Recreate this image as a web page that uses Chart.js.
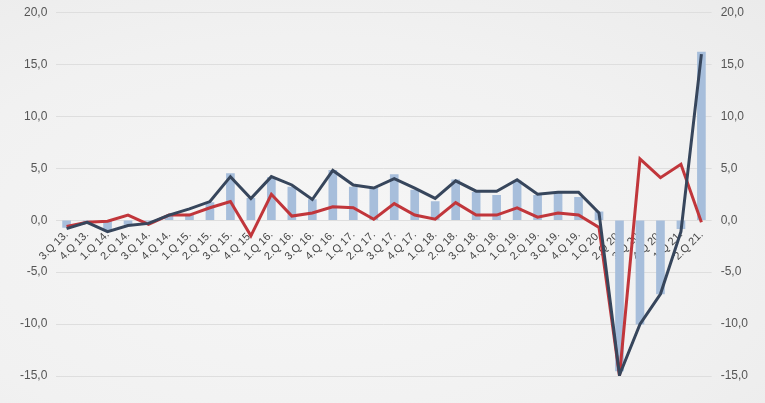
<!DOCTYPE html>
<html>
<head>
<meta charset="utf-8">
<script src="https://cdn.jsdelivr.net/npm/chart.js@4/dist/chart.umd.min.js"></script>
<style>
  html, body { margin: 0; padding: 0; }
  body {
    width: 765px; height: 403px; overflow: hidden;
    background: radial-gradient(ellipse at 40% 60%, #f6f6f6 0%, #f1f1f1 60%, #ebebeb 100%);
  }
  #wrap { position: relative; width: 765px; height: 403px; }
</style>
</head>
<body>
<div id="wrap"><canvas id="chart" width="765" height="403"></canvas></div>
<script>
// quarters, 3.Q 2013 - 2.Q 2021
const quarters = [
  "3.Q 13.", "4.Q 13.",
  "1.Q 14.", "2.Q 14.", "3.Q 14.", "4.Q 14.",
  "1.Q 15.", "2.Q 15.", "3.Q 15.", "4.Q 15.",
  "1.Q 16.", "2.Q 16.", "3.Q 16.", "4.Q 16.",
  "1.Q 17.", "2.Q 17.", "3.Q 17.", "4.Q 17.",
  "1.Q 18.", "2.Q 18.", "3.Q 18.", "4.Q 18.",
  "1.Q 19.", "2.Q 19.", "3.Q 19.", "4.Q 19.",
  "1.Q 20.", "2.Q 20.", "3.Q 20.", "4.Q 20.",
  "1.Q 21.", "2.Q 21."
];

// blue bars
const barValues = [
  -0.7, -0.1,
  -0.9, -0.4, -0.1, 0.4,
  0.6, 1.7, 4.5, 2.1,
  4.1, 3.2, 2.0, 4.8,
  3.2, 3.1, 4.4, 2.9,
  1.8, 3.9, 2.7, 2.4,
  3.8, 2.4, 2.7, 2.2,
  0.8, -14.5, -10.0, -7.1,
  -0.8, 16.2
];

// dark line
const darkLine = [
  -0.8, -0.2,
  -1.1, -0.5, -0.3, 0.5,
  1.1, 1.8, 4.2, 2.1,
  4.2, 3.4, 2.0, 4.8,
  3.4, 3.1, 4.0, 3.1,
  2.1, 3.8, 2.8, 2.8,
  3.9, 2.5, 2.7, 2.7,
  0.7, -14.9, -10.0, -7.1,
  -1.1, 16.0
];

// red line
const redLine = [
  -0.6, -0.2,
  -0.1, 0.5, -0.4, 0.5,
  0.5, 1.2, 1.8, -1.5,
  2.5, 0.4, 0.7, 1.3,
  1.2, 0.1, 1.6, 0.5,
  0.1, 1.7, 0.5, 0.5,
  1.2, 0.3, 0.7, 0.5,
  -0.7, -15.0, 5.9, 4.1,
  5.4, -0.2
];

const yTicks = { min: -15, max: 20, step: 5 };

function fmt(v) {
  return v.toFixed(1).replace(".", ",");
}

const ctx = document.getElementById("chart");

// small lineHeight keeps the top gap tight, single-line labels are unaffected
const yFont = { family: "Arial", size: 12, lineHeight: 0.6 };

new Chart(ctx, {
  data: {
    labels: quarters,
    datasets: [
      {
        type: "line",
        data: darkLine,
        borderColor: "#37465c",
        borderWidth: 3,
        pointRadius: 0,
        tension: 0,
        order: 1
      },
      {
        type: "line",
        data: redLine,
        borderColor: "#c1363b",
        borderWidth: 3,
        pointRadius: 0,
        tension: 0,
        order: 2
      },
      {
        type: "bar",
        data: barValues,
        backgroundColor: "#a7bedb",
        barThickness: 8,
        order: 3
      }
    ]
  },
  options: {
    responsive: false,
    animation: false,
    layout: { padding: { left: 11, right: 8, top: 0, bottom: 27 } },
    plugins: {
      legend: { display: false },
      tooltip: { enabled: false }
    },
    scales: {
      x: {
        position: { y: 0 },
        grid: { display: false },
        border: { display: false },
        ticks: {
          color: "#444",
          font: { family: "Arial", size: 11 },
          minRotation: 45,
          maxRotation: 45,
          autoSkip: false,
          padding: 0
        }
      },
      y: {
        position: "left",
        min: yTicks.min,
        max: yTicks.max,
        grid: { color: "#dedede", drawTicks: false, lineWidth: 1 },
        border: { display: false },
        ticks: {
          stepSize: yTicks.step,
          color: "#555",
          font: yFont,
          padding: 9,
          callback: (v) => fmt(v)
        }
      },
      y2: {
        position: "right",
        min: yTicks.min,
        max: yTicks.max,
        grid: { display: false, drawTicks: false },
        border: { display: false },
        ticks: {
          stepSize: yTicks.step,
          color: "#555",
          font: yFont,
          padding: 9,
          callback: (v) => fmt(v)
        }
      }
    }
  }
});
</script>
</body>
</html>
